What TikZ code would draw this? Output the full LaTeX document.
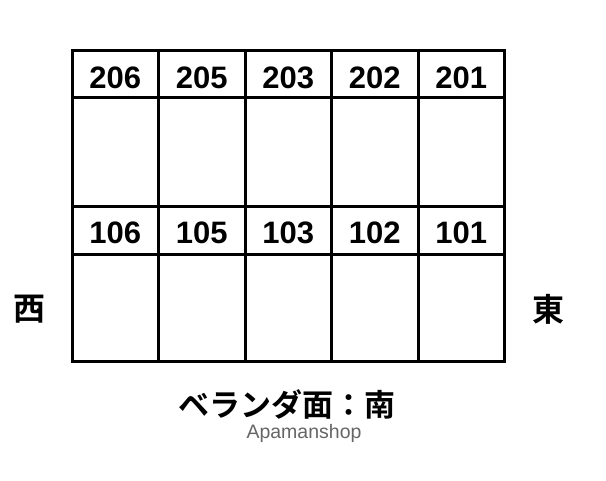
\documentclass[tikz,border=0pt]{standalone}
\usepackage{fontspec}
\setmainfont{Liberation Sans}
\newfontfamily\jpfont{Noto Sans CJK JP Bold}
\begin{document}
\begin{tikzpicture}[x=1pt,y=-1pt,
  grid/.style={line width=3pt,line cap=rect},
  num/.style={font=\fontsize{31}{36}\selectfont\bfseries,inner sep=0pt,anchor=center},
  dirtext/.style={font=\jpfont\fontsize{32}{36}\selectfont,inner sep=0pt},
  captext/.style={font=\jpfont\fontsize{31}{34}\selectfont,inner sep=0pt},
  brand/.style={font=\fontsize{19.5}{22}\selectfont,text=black!60,inner sep=0pt,anchor=base}]
\useasboundingbox (0,0) rectangle (606,480);
\fill[white] (0,0) rectangle (606,480);
% outer frame and horizontal lines
\draw[grid] (72,50) rectangle (504.5,361);
\foreach \yy in {97,206,254} \draw[grid] (72,\yy) -- (504.5,\yy);
\foreach \xx in {158.5,245,331.5,418} \draw[grid] (\xx,50) -- (\xx,361);
% numbers
\node[num] (n206) at (115.25,77.5) {206};
\node[num] (n205) at (201.75,77.5) {205};
\node[num] (n203) at (288.25,77.5) {203};
\node[num] (n202) at (374.75,77.5) {202};
\node[num] (n201) at (461.25,77.5) {201};
\node[num] (n106) at (115.25,233) {106};
\node[num] (n105) at (201.75,233) {105};
\node[num] (n103) at (288.25,233) {103};
\node[num] (n102) at (374.75,233) {102};
\node[num] (n101) at (461.25,233) {101};
% directions
\node[dirtext] (west) at (29,309) {西};
\node[dirtext] (east) at (548,309) {東};
\node[captext] (veranda) at (287,404) {ベランダ面：南};
\node[brand] (apaman) at (304,438) {Apamanshop};
\end{tikzpicture}
\end{document}
